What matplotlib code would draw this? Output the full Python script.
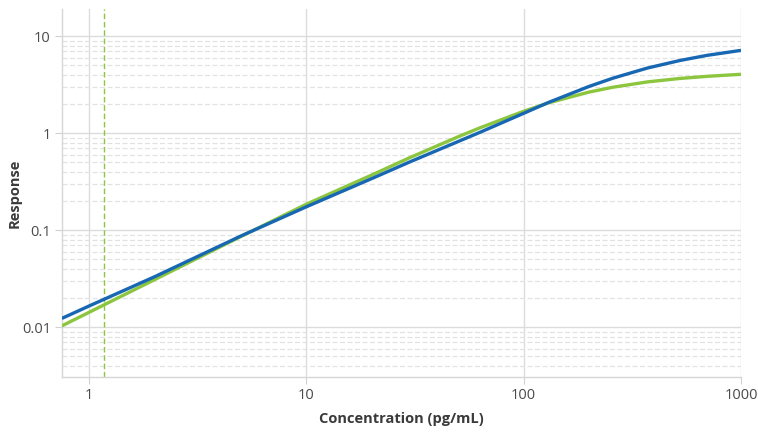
import numpy as np
import matplotlib
matplotlib.use('Agg')
import matplotlib.pyplot as plt
from matplotlib.ticker import FixedLocator, FixedFormatter, LogLocator, NullFormatter

##########################################################################################
#### Data
conc = [0.75, 1, 2, 5, 10, 20, 30, 50, 63, 100, 130, 200, 257, 370, 524, 700, 1000]
resp_blue = [0.0123, 0.0165, 0.033, 0.087, 0.174, 0.34, 0.506, 0.82, 1.02, 1.6, 2.07,
             3.03, 3.68, 4.68, 5.61, 6.34, 7.13]
resp_green = [0.0103, 0.0142, 0.0308, 0.086, 0.185, 0.37, 0.56, 0.918, 1.135, 1.68, 2.05,
              2.65, 2.97, 3.37, 3.66, 3.85, 4.04]
lod = 1.17                      # dashed vertical marker

x_ticks = [1, 10, 100, 1000]
x_labels = ['1', '10', '100', '1000']
y_ticks = [0.01, 0.1, 1, 10]
y_labels = ['0.01', '0.1', '1', '10']

##########################################################################################
#### Plot
plt.rcParams['font.family'] = ['Open Sans', 'DejaVu Sans']

fig = plt.figure(figsize=(7.58, 4.32), dpi=100)
ax = fig.add_axes([0.0818, 0.127, 0.8958, 0.852])

ax.set_xscale('log')
ax.set_yscale('log')
ax.set_xlim(0.751, 1000)
ax.set_ylim(0.00305, 19.0)

ax.plot(conc, resp_green, color='#8cc63e', lw=2.4, solid_capstyle='butt', zorder=3)
ax.plot(conc, resp_blue, color='#1767b3', lw=2.4, solid_capstyle='butt', zorder=4)
ax.axvline(lod, color='#8cc63e', lw=1.0, ls=(0, (4, 2)), zorder=2)

# ticks and grid
ax.xaxis.set_major_locator(FixedLocator(x_ticks))
ax.xaxis.set_major_formatter(FixedFormatter(x_labels))
ax.xaxis.set_minor_formatter(NullFormatter())
ax.xaxis.set_minor_locator(FixedLocator([]))
ax.yaxis.set_major_locator(FixedLocator(y_ticks))
ax.yaxis.set_major_formatter(FixedFormatter(y_labels))
ax.yaxis.set_minor_locator(LogLocator(base=10, subs=np.arange(2, 10)))
ax.yaxis.set_minor_formatter(NullFormatter())

ax.grid(True, which='major', axis='both', color='#dcdcdc', lw=1.0, zorder=0)
ax.grid(True, which='minor', axis='y', color='#e2e2e2', lw=0.9, ls=(0, (4, 2)), zorder=0)

ax.tick_params(axis='both', which='major', length=5, width=0.8, color='#d0d0d0',
               labelsize=10.5, labelcolor='#4a4a4a', pad=3)
ax.tick_params(axis='y', which='minor', length=0)

for side in ['top', 'right']:
    ax.spines[side].set_visible(False)
for side in ['left', 'bottom']:
    ax.spines[side].set_color('#d6d6d6')
    ax.spines[side].set_linewidth(1.0)

ax.set_xlabel('Concentration (pg/mL)', fontsize=10.5, fontweight='bold', color='#3a3a3a', labelpad=6)
ax.set_ylabel('Response', fontsize=10.5, fontweight='bold', color='#3a3a3a')
ax.yaxis.set_label_coords(-0.059, 0.5)

fig.savefig('out.png', dpi=100)
